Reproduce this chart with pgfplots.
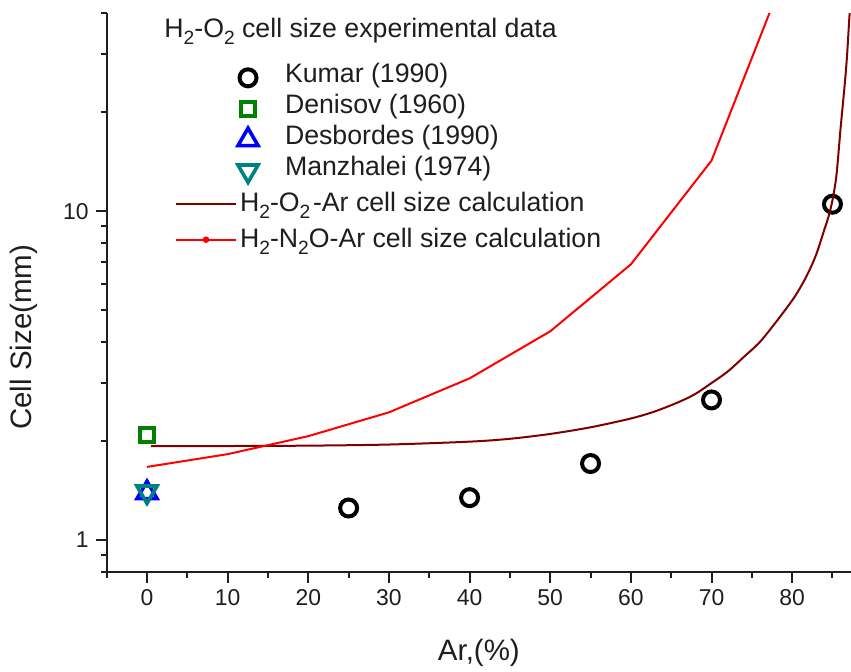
\documentclass[border=0pt]{standalone}
\usepackage{pgfplots}
\pgfplotsset{compat=1.18}
\usepackage{fontspec}
\setmainfont{Liberation Sans}
\definecolor{dgreen}{RGB}{0,128,0}
\definecolor{dteal}{RGB}{0,128,128}
\definecolor{maroonline}{RGB}{128,0,0}
\definecolor{txt}{RGB}{30,30,30}
\newcommand{\sub}[1]{\raisebox{-0.27em}{\scalebox{0.72}{#1}}}
\pgfplotsset{
  markleg/.style={legend image code/.code={\path[draw=none, fill=none] (0bp,0bp) -- (30bp,0bp); \draw[##1, overlay] plot coordinates {(36.5bp,0bp)};}},
  lineleg/.style={legend image code/.code={\draw[##1] (0bp,1.5bp) -- (30bp,1.5bp);}},
  dotleg/.style={legend image code/.code={\draw[##1] (0bp,1.5bp) -- (30bp,1.5bp); \fill[red] (15bp,1.5bp) circle (1.1bp);}},
}
\begin{document}
\begin{tikzpicture}
\begin{axis}[
  at={(0,0)}, anchor=south west,
  scale only axis,
  width=372.15bp, height=279.2bp,
  ymode=log,
  xmin=-5, xmax=87.3, ymin=0.8, ymax=40,
  legend cell align=left,
  name=ax,
  axis lines=left,
  axis line style={-, line width=1bp, txt},
  tick style={line width=1bp, txt},
  tick align=outside,
  major tick length=5.5bp, minor tick length=3bp,
  xtick={0,10,...,80}, xticklabels={0,10,20,30,40,50,60,70,80},
  minor xtick={-5,5,15,25,35,45,55,65,75,85},
  ytick={1,10}, yticklabels={1,10},
  minor ytick={0.8,0.9,2,3,4,5,6,7,8,9,20,30,40},
  tick label style={font=\fontsize{11.5}{13}\selectfont, text=txt},
  xlabel={Ar,(\%)}, ylabel={Cell Size(mm)},
  label style={font=\fontsize{14.8}{17}\selectfont, text=txt},
  xlabel style={at={(axis description cs:0.5,-0.1583)}, anchor=base},
  ylabel style={at={(axis description cs:-0.1005,0.42)}, anchor=base},
  legend style={draw=none, fill=none, inner sep=0pt, outer sep=0pt, row sep=0pt, column sep=1.5bp,
    font=\fontsize{13.4}{16}\selectfont, text=txt,
    at={(axis description cs:0.0918,0.9122)}, anchor=north west,
    nodes={inner sep=0pt, outer sep=0pt, text height=10bp, text depth=5.5bp}},
]
\addplot[only marks, mark=o, mark size=4.25bp, line width=2bp, black, markleg]
  coordinates {(25,1.25) (40,1.344) (55,1.707) (70,2.665) (85,10.5)};
\addlegendentry{\hspace*{23.5bp}Kumar (1990)}
\addplot[only marks, mark=square, mark size=3.5bp, line width=2bp, dgreen, markleg]
  coordinates {(0,2.09)};
\addlegendentry{\hspace*{23.5bp}Denisov (1960)}
\addplot[only marks, mark=triangle, mark size=5.8bp, line width=1.8bp, blue, markleg]
  coordinates {(0,1.39)};
\addlegendentry{\hspace*{23.5bp}Desbordes (1990)}
\addplot[only marks, mark=triangle, mark size=5.8bp, line width=1.8bp, dteal, mark options={rotate=180}, markleg]
  coordinates {(0,1.40)};
\addlegendentry{\hspace*{23.5bp}Manzhalei (1974)}
\node[anchor=base west, inner sep=0pt, font=\fontsize{13.4}{16}\selectfont, text=txt]
  at (axis description cs:0.077,0.957) {H\sub{2}-O\sub{2} cell size experimental data};
\end{axis}
\begin{axis}[
  at={(0,0)}, anchor=south west,
  scale only axis,
  width=372.15bp, height=279.2bp,
  ymode=log,
  xmin=-5, xmax=87.3, ymin=0.8, ymax=40,
  legend cell align=left,
  hide axis,
  legend style={draw=none, fill=none, inner sep=0pt, outer sep=0pt, row sep=0pt, column sep=1.5bp,
    font=\fontsize{13.4}{16}\selectfont, text=txt,
    at={(axis description cs:0.0918,0.6859)}, anchor=north west,
    nodes={inner sep=0pt, outer sep=0pt, text height=11.5bp, text depth=6.5bp}},
]
\addplot[maroonline, line width=1bp, smooth, no marks, lineleg]
  coordinates {(0.5,1.93) (10,1.93) (20,1.935) (30,1.95) (40,1.99) (45,2.03) (50,2.1) (55,2.2)
    (60,2.34) (63,2.46) (66,2.63) (68,2.78) (70,3.0) (72,3.25) (74,3.6) (76,4.0) (78,4.6)
    (80,5.35) (81,5.85) (82,6.5) (83,7.4) (84,8.8) (84.5,9.6) (85,10.8) (85.5,12.9)
    (86,17.8) (86.5,24) (86.8,29.5) (87.1,39) (87.3,46)};
\addlegendentry{H\sub{2}-O\sub{2}\hspace{0.1em}-Ar cell size calculation}
\addplot[red, line width=1bp, no marks, dotleg]
  coordinates {(0,1.667) (10,1.823) (20,2.068) (30,2.443) (40,3.10) (50,4.31) (60,6.89) (70,14.25) (80,60)};
\addlegendentry{H\sub{2}-N\sub{2}O-Ar cell size calculation}
\end{axis}
\pgfresetboundingbox
\path[use as bounding box] ([shift={(-53.35bp,-50.15bp)}]ax.south west) rectangle ([shift={(0bp,6.65bp)}]ax.north east);
\end{tikzpicture}
\end{document}
